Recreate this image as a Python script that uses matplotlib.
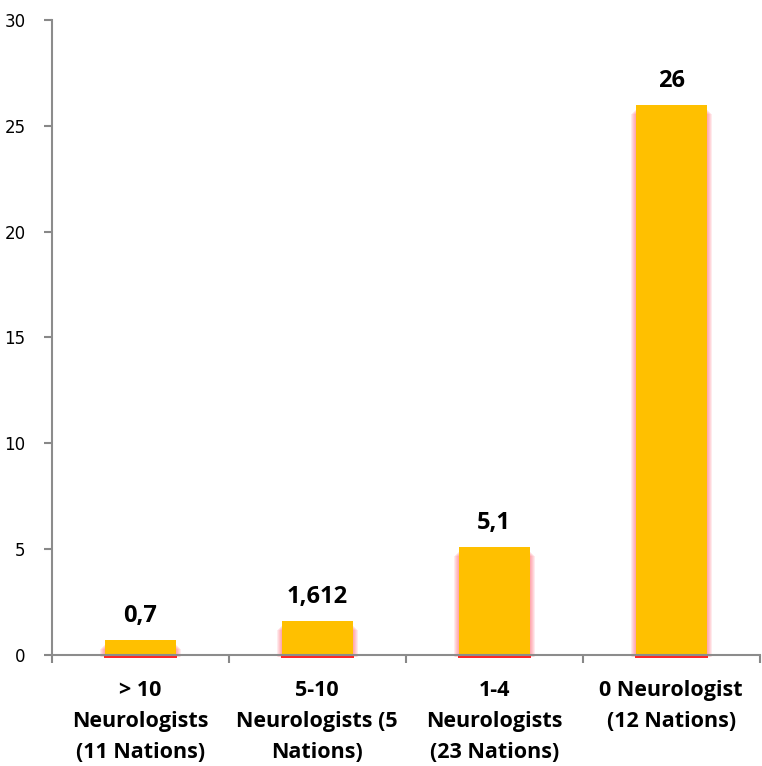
import matplotlib
matplotlib.use("Agg")
import matplotlib.pyplot as plt
from matplotlib.patches import Rectangle

categories = ["> 10\nNeurologists\n(11 Nations)",
              "5-10\nNeurologists (5\nNations)",
              "1-4\nNeurologists\n(23 Nations)",
              "0 Neurologist\n(12 Nations)"]
values = [0.7, 1.612, 5.1, 26]
value_labels = ["0,7", "1,612", "5,1", "26"]
yticks = [0, 5, 10, 15, 20, 25, 30]

BAR_W = 0.4
fig = plt.figure(figsize=(7.62, 7.66), dpi=100)
ax = fig.add_axes([0.068, 0.145, 0.929, 0.829])
ax.set_xlim(-0.5, len(values) - 0.5)
ax.set_ylim(0, 30)

x = list(range(len(values)))
ax.bar(x, values, width=BAR_W, color="#ffc000", zorder=3)

# soft red glow on the sides and base of each bar
fig.canvas.draw()
bbox = ax.get_window_extent()
px_x = (len(values)) / bbox.width
px_y = 30 / bbox.height
for xi, v in zip(x, values):
    for k in range(1, 6):
        ax.add_patch(Rectangle((xi - BAR_W / 2 - k * px_x, -k * 0.4 * px_y),
                               BAR_W + 2 * k * px_x,
                               max(v - (4 + k) * px_y, 0) + k * 0.4 * px_y,
                               facecolor="#ff2030", edgecolor="none",
                               alpha=0.09, zorder=2, clip_on=False))
    ax.add_patch(Rectangle((xi - BAR_W / 2 - px_x, -3.2 * px_y),
                           BAR_W + 2 * px_x, 3.2 * px_y,
                           facecolor="#ff1010", edgecolor="none", alpha=0.9,
                           zorder=2, clip_on=False))

for xi, v, lab in zip(x, values, value_labels):
    ax.annotate(lab, (xi, v), xytext=(0, 13), textcoords="offset points",
                ha="center", va="baseline", fontsize=17, fontweight="bold",
                family="Open Sans", color="black")

ax.set_yticks(yticks)
ax.set_yticklabels([str(t) for t in yticks], fontsize=12, family="DejaVu Sans")

ax.set_xticks([i - 0.5 for i in range(len(values) + 1)])
ax.set_xticklabels([])
ax.set_xticks(x, minor=True)
ax.set_xticklabels(categories, minor=True, fontsize=15.5, fontweight="bold",
                   family="Open Sans", linespacing=1.62)
ax.tick_params(axis="x", which="minor", length=0, pad=18)
ax.tick_params(axis="x", which="major", length=6, color="#888888",
               width=1.5, direction="out")
ax.tick_params(axis="y", length=6, color="#888888", width=1.5,
               direction="out", pad=13)

for s in ["top", "right"]:
    ax.spines[s].set_visible(False)
for s in ["left", "bottom"]:
    ax.spines[s].set_color("#8c8c8c")
    ax.spines[s].set_linewidth(1.5)
    ax.spines[s].set_zorder(4)

fig.savefig("out.png", dpi=100)
